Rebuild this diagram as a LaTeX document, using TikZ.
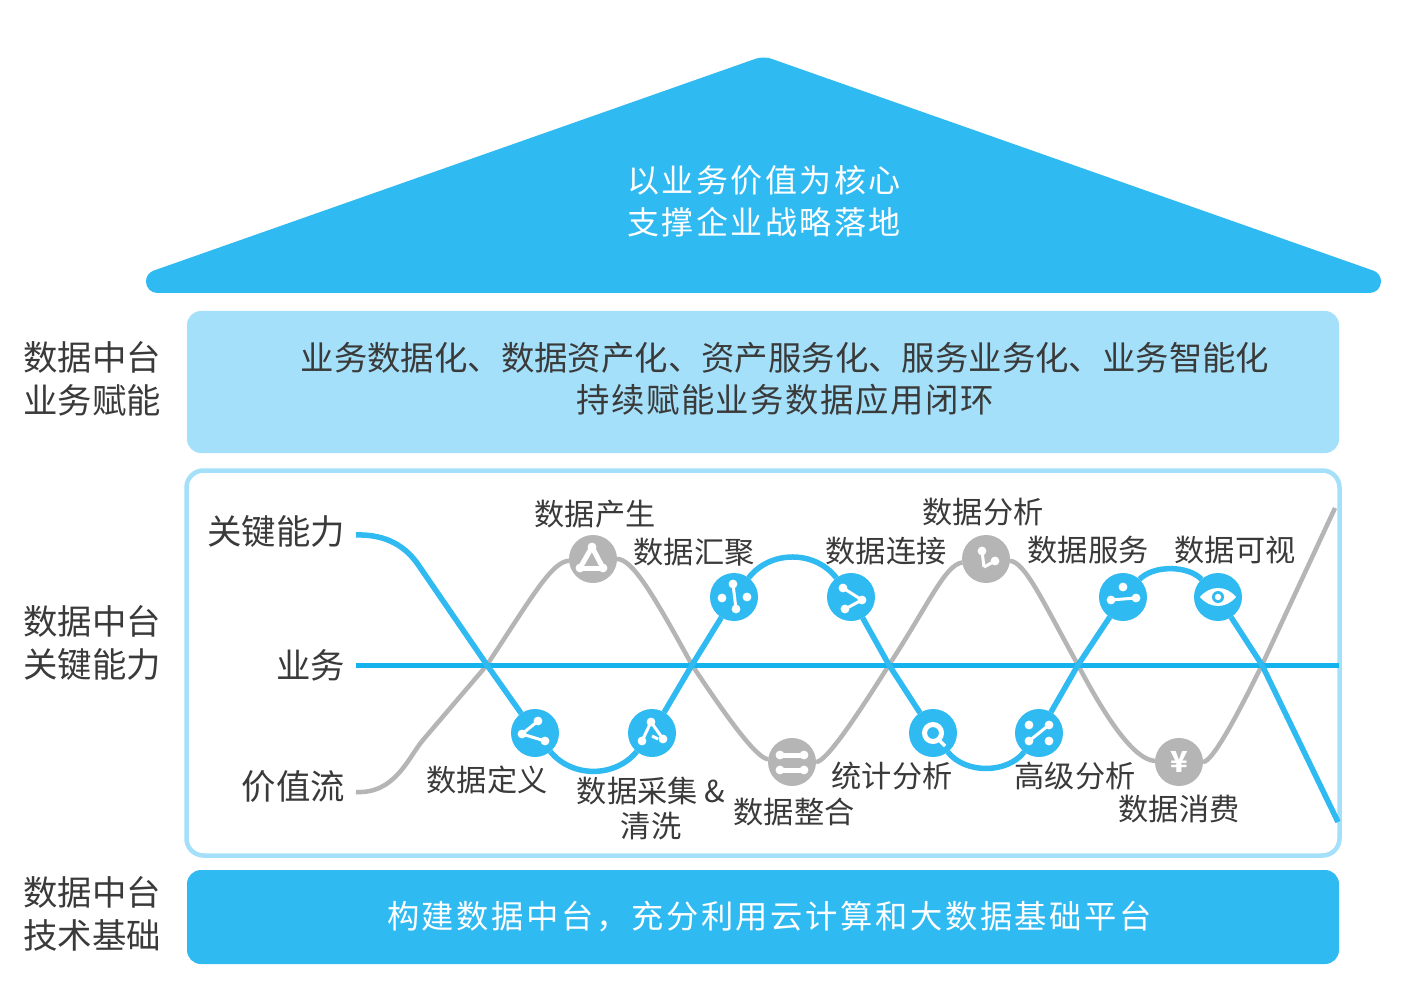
\documentclass[tikz,border=0pt]{standalone}
\usepackage{fontspec}
\setmainfont{Noto Sans CJK SC}
\newfontfamily\widefont[LetterSpace=8]{Noto Sans CJK SC}
\definecolor{sky}{HTML}{30BAF2}
\definecolor{pale}{HTML}{A4E0F9}
\definecolor{lane}{HTML}{14B3EE}
\definecolor{ash}{HTML}{B5B5B5}
\definecolor{ink}{HTML}{3A3A3A}
\tikzset{
  panel/.style={fill=#1, rounded corners=14pt, minimum width=1152pt, inner sep=0pt, outer sep=0pt},
  frame/.style={draw=pale, line width=4.5pt, fill=white, rounded corners=17pt, inner sep=0pt, outer sep=0pt},
  lbl/.style={font=\fontsize{30.2}{35}\selectfont, text=ink, align=center, inner sep=0pt},
  side/.style={font=\fontsize{34.4}{42.5}\selectfont, text=ink, align=center, inner sep=0pt},
  band/.style={font=\fontsize{33.4}{42}\selectfont, text=ink, align=center, inner sep=0pt},
  wide/.style={font=\widefont\fontsize{32}{42}\selectfont, text=white, align=center, inner sep=0pt},
  hub/.style={circle, fill=#1, minimum size=48pt, inner sep=0pt, outer sep=0pt},
  bflow/.style={draw=sky, line width=5.5pt},
  gflow/.style={draw=ash, line width=4.5pt},
  hflow/.style={draw=lane, line width=5pt},
}
\newcommand{\linkdots}[4][3pt]{%
  \begin{scope}[shift={(#2)}]
    \foreach \i/\j in {#3} \fill[white] (\i,\j) circle (4.4pt);
    \foreach \a/\b/\c/\d in {#4} \draw[white, line width=#1] (\a,\b) -- (\c,\d);
  \end{scope}}
\begin{document}
\begin{tikzpicture}[x=1pt,y=-1pt]
  \useasboundingbox (0,0) rectangle (1406,1008);
  \fill[white] (0,0) rectangle (1406,1008);
  % roof
  \fill[sky] (157.5,293) .. controls (151,293) and (146,288) .. (146,281.5)
    .. controls (146,276.5) and (149,272.2) .. (153.7,270.6) [rounded corners=8pt] -- (763.5,56)
    [sharp corners] -- (1373.3,270.6) .. controls (1378,272.2) and (1381,276.5) .. (1381,281.5)
    .. controls (1381,288) and (1376,293) .. (1369.5,293) -- cycle;
  \node[wide] (rooftext) at (764,201) {以业务价值为核心\\支撑企业战略落地};
  % panels
  \node[panel=pale, minimum height=142pt] (enable) at (763,382) {};
  \node[band] (enabletext) at (785,379) {业务数据化、数据资产化、资产服务化、服务业务化、业务智能化\\\addfontfeature{LetterSpace=4.4}持续赋能业务数据应用闭环};
  \node[frame, minimum width=1153pt, minimum height=385pt] (ability) at (763,663) {};
  \node[panel=sky, minimum height=94pt] (base) at (763,917) {};
  \node[wide, font=\widefont\fontsize{32.3}{42}\selectfont] (basetext) at (769.5,917) {构建数据中台，充分利用云计算和大数据基础平台};
  \foreach \y/\name/\txt in {379/sideenable/{数据中台\\业务赋能}, 643/sideability/{数据中台\\关键能力}, 914/sidebase/{数据中台\\技术基础}}
    \node[side] (\name) at (92,\y) {\txt};
  \node[side, anchor=east] (rowkey) at (345,531) {关键能力};
  \node[side, anchor=east] (rowbiz) at (345,665) {业务};
  \node[side, anchor=east] (rowval) at (345,787) {价值流};
  % flow labels
  \foreach \x/\y/\name/\txt in {595/514/lgen/数据产生, 694/552/lgat/数据汇聚, 886/551/lcon/数据连接,
      983/512/lana/数据分析, 1088/550/lsrv/数据服务, 1235/550/lview/数据可视, 487/780/ldef/数据定义,
      651/808/lcol/{数据采集 \&\\清洗}, 794/812/lmer/数据整合, 892/776/lsta/统计分析,
      1075/776/ladv/高级分析, 1179/809/lcns/数据消费}
    \node[lbl] (\name) at (\x,\y) {\txt};
  % hubs
  \foreach \x/\y/\name in {535/733/ndef, 652/733/ncol, 734/597/ngat, 851/597/ncon,
      933/733/nsta, 1039/733/nadv, 1123/597/nsrv, 1218/597/nview}
    \node[hub=sky] (\name) at (\x,\y) {};
  \foreach \x/\y/\name in {593/559/ngen, 792/762/nmer, 986/559/nana}
    \node[hub=ash] (\name) at (\x,\y) {};
  \node[hub=ash, font=\bfseries\fontsize{29}{29}\selectfont, text=white] (ncns) at (1179,762) {¥};
  % flow points
  \coordinate (bstart) at (356,535);
  \coordinate (bbend) at (417,563);
  \coordinate (bend) at (1338,822);
  \coordinate (gstart) at (356,792);
  \coordinate (gbend) at (423,740);
  \coordinate (gend) at (1335,508);
  \coordinate (hstart) at (356,665);
  \coordinate (hend) at (1339,665);
  \foreach \x/\name in {487/xa, 692/xb, 889/xc, 1078/xd, 1262/xe}
    \coordinate (\name) at (\x,665);
  \draw[gflow] (gstart) .. controls (395,794) and (408,758) .. (gbend) -- (xa)
    .. controls (535,592) and (552,562) .. (ngen);
  \draw[gflow] (ngen) .. controls (632,559) and (652,592) .. (xb)
    .. controls (732,725) and (757,758) .. (nmer);
  \draw[gflow] (nmer) .. controls (825,762) and (850,727) .. (xc)
    .. controls (930,602) and (945,565) .. (nana);
  \draw[gflow] (nana) .. controls (1025,562) and (1042,600) .. (xd)
    .. controls (1108,722) and (1135,760) .. (ncns);
  \draw[gflow] (ncns) .. controls (1212,762) and (1235,720) .. (xe) -- (gend);
  \draw[hflow] (hstart) -- (hend);
  \draw[bflow] (bstart) .. controls (388,534) and (406,548) .. (bbend) -- (xa) -- (ndef);
  \draw[bflow] (ndef) .. controls (572,778) and (615,778) .. (ncol);
  \draw[bflow] (ncol) -- (xb) -- (ngat);
  \draw[bflow] (ngat) .. controls (770,550) and (815,550) .. (ncon);
  \draw[bflow] (ncon) -- (xc) -- (nsta);
  \draw[bflow] (nsta) .. controls (965,774) and (1007,774) .. (nadv);
  \draw[bflow] (nadv) -- (xd) -- (nsrv);
  \draw[bflow] (nsrv) .. controls (1153,565) and (1188,565) .. (nview);
  \draw[bflow] (nview) -- (xe) -- (bend);
  % icons
  \linkdots{ndef}{3/-12, -13/1, 10/8}{3/-12/-13/1, -13/1/10/8}
  \linkdots{ncol}{-1/-11, -10/8, 11/6}{-1/-11/-10/8, -1/-11/11/6, 0/3/6/6}
  \linkdots{ngat}{-1/-13, 2/12, -12/1, 13/0}{-1/-13/2/12}
  \linkdots{ncon}{-8/-9, 11/3, -6/12}{-8/-9/11/3, 11/3/-6/12}
  \linkdots{nsrv}{0/-10, -12/3, 13/1}{-12/3/13/1}
  \linkdots{nadv}{-10/-8, 10/-8, -10/8, 10/8}{-10/8/10/-8}
  \linkdots{nana}{-4/-8, 9/2}{-4/-8/-2/8, -2/8/9/2}
  \linkdots[5pt]{ngen}{-1/-12, -13/9, 10/9}{-1/-12/-13/9, -13/9/10/9, 10/9/-1/-12}
  \linkdots[5pt]{nmer}{-12/-7, 12/-7, -12/8, 12/8}{-12/-7/12/-7, -12/8/12/8}
  \begin{scope}[shift={(nsta)}]
    \draw[white, line width=5pt] (0,0) circle (8.5pt);
    \draw[white, line width=3.5pt] (7,8) -- (12,13);
  \end{scope}
  \begin{scope}[shift={(nview)}]
    \fill[white] (-18,0) .. controls (-8,-12) and (8,-12) .. (18,0) .. controls (8,12) and (-8,12) .. (-18,0) -- cycle;
    \fill[sky] (0,0) circle (6pt);
    \fill[white] (0,0) circle (3.2pt);
  \end{scope}
\end{tikzpicture}
\end{document}
